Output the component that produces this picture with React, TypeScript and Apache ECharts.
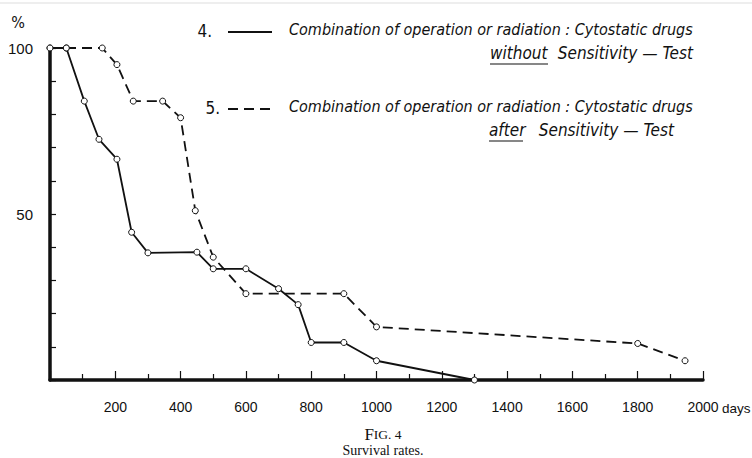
import React, { useEffect, useRef } from "react";
import * as echarts from "echarts";

const days4 = [0, 50, 105, 150, 205, 250, 300, 450, 500, 600, 700, 760, 800, 900, 1000, 1300];
const pct4 = [100, 100, 84, 72.5, 66.5, 44.5, 38.3, 38.5, 33.5, 33.5, 27.5, 22.7, 11.3, 11.3, 5.8, 0];

const days5 = [0, 50, 160, 205, 255, 345, 400, 445, 500, 600, 900, 1000, 1800, 1945];
const pct5 = [100, 100, 100, 95, 84, 84, 79, 51, 37, 26, 26, 16, 11, 5.8];

const xLabels = [200, 400, 600, 800, 1000, 1200, 1400, 1600, 1800, 2000];
const yLabels = [50, 100];

const legend4 = ["4.", "Combination of operation or radiation : Cytostatic drugs", "without", "Sensitivity — Test"];
const legend5 = ["5.", "Combination of operation or radiation : Cytostatic drugs", "after", "Sensitivity — Test"];

const INK = "#111";
const handFont = "italic 16px 'DejaVu Sans Condensed', 'Liberation Sans Narrow', sans-serif";
const handFont2 = "italic 17px 'DejaVu Sans Condensed', 'Liberation Sans Narrow', sans-serif";
const labelFont = "'Liberation Sans', Arial, sans-serif";

export default function App() {
  const ref = useRef<HTMLDivElement>(null);
  useEffect(() => {
    if (!ref.current) return;
    const chart = echarts.init(ref.current, null, { renderer: "svg" });
    const pts = (xs: number[], ys: number[]) => xs.map((x, i) => [x, ys[i]]);
    const symbolStyle = { color: "#fff", borderColor: INK, borderWidth: 1 };
    const txt = (x: number, y: number, text: string, font: string, align = "left") => ({
      type: "text", x, y,
      style: { text, font, fill: INK, textAlign: align, textVerticalAlign: "middle" },
    });
    chart.setOption({
      animation: false,
      backgroundColor: "#fff",
      grid: { left: 50, right: 49, top: 48, bottom: 78 },
      xAxis: {
        type: "value",
        min: 0,
        max: 2000,
        interval: 200,
        axisLine: { show: true, lineStyle: { color: INK, width: 3.5 } },
        axisTick: { show: true, inside: true, length: 9, lineStyle: { color: INK, width: 1.2 } },
        minorTick: { show: true, splitNumber: 2, length: 6, lineStyle: { color: INK, width: 1.2 } },
        splitLine: { show: false },
        axisLabel: {
          color: INK,
          fontFamily: labelFont,
          fontSize: 14,
          margin: 20,
          formatter: (v: number) => (xLabels.includes(v) ? String(v) : ""),
        },
      },
      yAxis: {
        type: "value",
        min: 0,
        max: 100,
        interval: 10,
        axisLine: { show: true, lineStyle: { color: INK, width: 3.5 } },
        axisTick: { show: true, inside: true, length: 6, lineStyle: { color: INK, width: 1.2 } },
        splitLine: { show: false },
        axisLabel: {
          color: INK,
          fontFamily: labelFont,
          fontSize: 15,
          margin: 17,
          formatter: (v: number) => (yLabels.includes(v) ? String(v) : ""),
        },
      },
      series: [
        {
          type: "line",
          data: pts(days4, pct4),
          symbol: "circle",
          symbolSize: 6,
          showAllSymbol: true,
          itemStyle: symbolStyle,
          lineStyle: { color: INK, width: 1.8 },
          z: 3,
        },
        {
          type: "line",
          data: pts(days5, pct5),
          symbol: "circle",
          symbolSize: 6,
          showAllSymbol: true,
          itemStyle: symbolStyle,
          lineStyle: { color: INK, width: 1.8, type: [10, 6] },
          z: 2,
        },
      ],
      graphic: [
        { type: "line", shape: { x1: 0, y1: 3, x2: 752, y2: 3 }, style: { stroke: "#ddd", lineWidth: 1 } },
        txt(18, 22, "%", "16px 'DejaVu Sans Condensed', sans-serif", "center"),
        txt(722, 408, "days", "13.5px 'Liberation Sans', Arial, sans-serif"),
        // legend 4
        txt(212, 31, legend4[0], "17px 'DejaVu Sans Condensed', sans-serif", "right"),
        { type: "line", shape: { x1: 228, y1: 32, x2: 272, y2: 32 }, style: { stroke: INK, lineWidth: 1.8 } },
        txt(289, 29, legend4[1], handFont),
        txt(490, 53, legend4[2], handFont2),
        txt(693, 53, legend4[3], handFont2, "right"),
        { type: "line", shape: { x1: 490, y1: 64, x2: 548, y2: 64 }, style: { stroke: INK, lineWidth: 1.2 } },
        // legend 5
        txt(220, 108, legend5[0], "17px 'DejaVu Sans Condensed', sans-serif", "right"),
        { type: "line", shape: { x1: 228, y1: 109, x2: 272, y2: 109 }, style: { stroke: INK, lineWidth: 1.8, lineDash: [10, 6] } },
        txt(289, 106, legend5[1], handFont),
        txt(489, 130, legend5[2], handFont2),
        txt(674, 130, legend5[3], handFont2, "right"),
        { type: "line", shape: { x1: 489, y1: 141, x2: 523, y2: 141 }, style: { stroke: INK, lineWidth: 1.2 } },
        // caption
        {
          type: "text", x: 383, y: 434,
          style: {
            text: "{a|F}{b|IG. 4}",
            textAlign: "center", textVerticalAlign: "middle", fill: INK,
            rich: {
              a: { fontFamily: "'Liberation Serif', 'DejaVu Serif', serif", fontSize: 17, fill: INK },
              b: { fontFamily: "'Liberation Serif', 'DejaVu Serif', serif", fontSize: 13.5, fill: INK },
            },
          },
        },
        txt(383, 450, "Survival rates.", "14px 'Liberation Serif', 'DejaVu Serif', serif", "center"),
      ],
    });
    return () => chart.dispose();
  }, []);
  return <div ref={ref} style={{ position: "absolute", left: 0, top: 0, width: 752, height: 458 }} />;
}
